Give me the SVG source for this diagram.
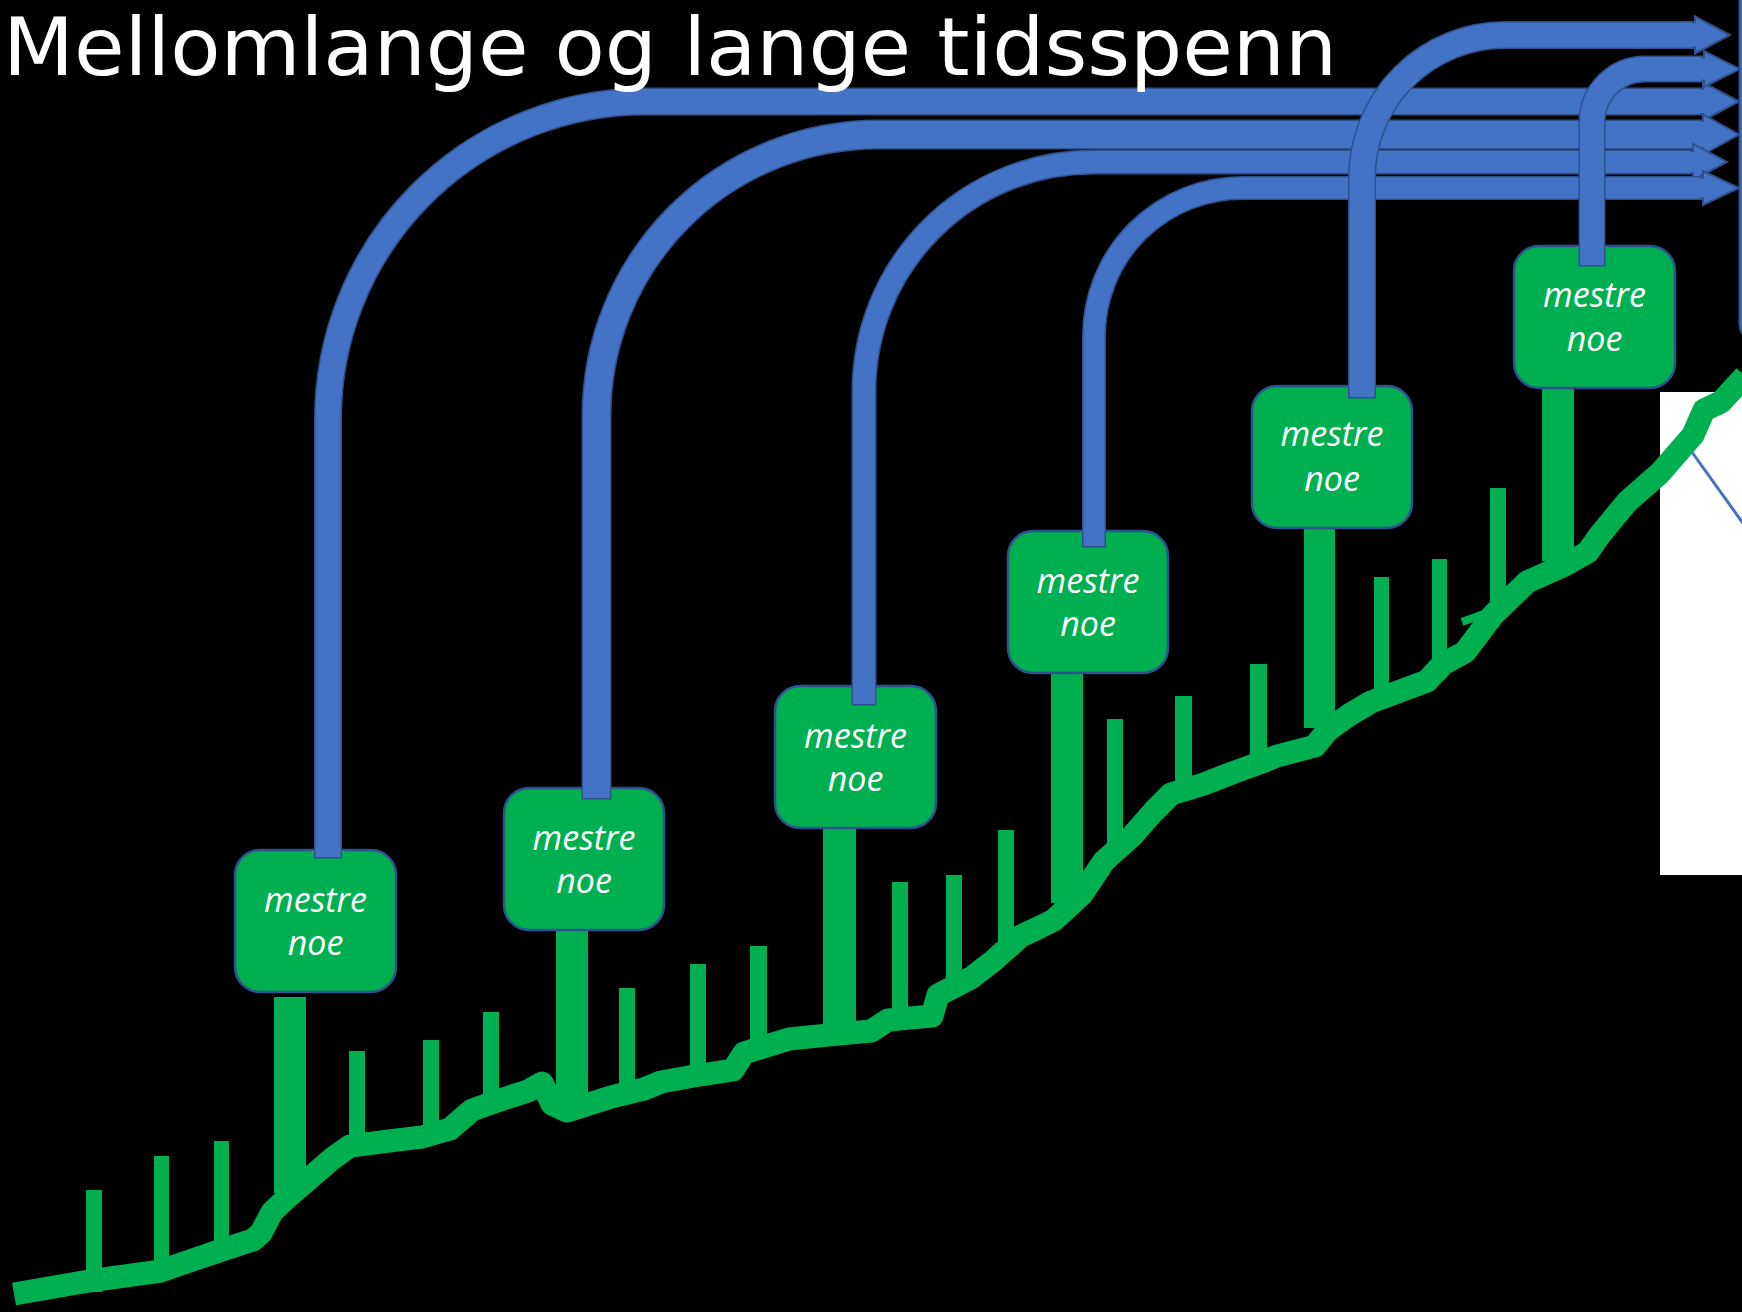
<svg xmlns="http://www.w3.org/2000/svg" width="1742" height="1312" viewBox="0 0 1742 1312">
<style>
.ao{fill:none;stroke:#2F528F}
.af{fill:none;stroke:#4472C4}
.ah{fill:#4472C4;stroke:#2F528F;stroke-width:2;stroke-linejoin:miter}
.box{fill:#00B050;stroke:#2F528F;stroke-width:2.5}
.lbl{font-family:"Open Sans","Liberation Sans",sans-serif;font-style:italic;font-size:34px;fill:#FFFFFF;text-anchor:middle}
.g{fill:#00B050}
.title{font-family:"DejaVu Sans","Noto Sans",sans-serif;font-size:80px;fill:#FFFFFF}
</style>
<rect x="0" y="0" width="1742" height="1312" fill="#000000"/>
<g id="backdrop">
<rect x="1660" y="392" width="90" height="483" fill="#FFFFFF"/>
<line x1="1689" y1="448" x2="1745" y2="526" stroke="#4472C4" stroke-width="3"/>
<rect x="1739.5" y="-40" width="100" height="385" rx="22" fill="#4472C4" stroke="#2F528F" stroke-width="2"/>
</g>
<g id="timeline">
<polyline fill="none" stroke="#00B050" stroke-width="23" stroke-linejoin="round" points="14,1294 89,1281 161,1271 172,1267 222,1250 253,1240 261,1233 272,1212 289,1196 311,1177 333,1158 350,1146 389,1141 422,1137 450,1129 472,1110 500,1100 528,1091 542,1083 552,1104 567,1111 583,1106 611,1097 644,1089 661,1082 694,1076 733,1070 744,1053 789,1039 828,1035 871,1031 888,1020 932,1016 938,995 971,978 993,961 1021,936 1038,928 1054,920 1082,894 1104,861 1132,836 1154,811 1171,794 1204,784 1232,773 1265,761 1277,756 1315,746 1327,731 1349,715 1371,702 1427,681 1443,664 1465,652 1493,615 1527,582 1565,565 1588,552 1599,536 1627,502 1660,473 1693,435 1704,410 1721,402 1745,376"/>
<line x1="1462" y1="622" x2="1494" y2="610" stroke="#00B050" stroke-width="8"/>
<rect class="g" x="86" y="1190" width="16" height="102"/>
<rect class="g" x="154" y="1156" width="15" height="123"/>
<rect class="g" x="214" y="1141" width="15" height="115"/>
<rect class="g" x="274" y="997" width="32" height="196"/>
<rect class="g" x="349" y="1051" width="16" height="94"/>
<rect class="g" x="423" y="1040" width="16" height="97"/>
<rect class="g" x="483" y="1012" width="16" height="94"/>
<rect class="g" x="556" y="930" width="32" height="170"/>
<rect class="g" x="619" y="988" width="16" height="105"/>
<rect class="g" x="690" y="964" width="16" height="113"/>
<rect class="g" x="750" y="946" width="17" height="106"/>
<rect class="g" x="823" y="828" width="33" height="197"/>
<rect class="g" x="892" y="882" width="16" height="133"/>
<rect class="g" x="946" y="875" width="16" height="115"/>
<rect class="g" x="998" y="830" width="16" height="120"/>
<rect class="g" x="1051" y="673" width="32" height="230"/>
<rect class="g" x="1107" y="719" width="16" height="133"/>
<rect class="g" x="1175" y="696" width="17" height="96"/>
<rect class="g" x="1250" y="664" width="17" height="101"/>
<rect class="g" x="1304" y="528" width="31" height="200"/>
<rect class="g" x="1374" y="577" width="15" height="113"/>
<rect class="g" x="1432" y="559" width="15" height="109"/>
<rect class="g" x="1490" y="488" width="16" height="124"/>
<rect class="g" x="1542" y="388" width="32" height="173"/>
</g>
<g id="node1">
<rect class="box" x="235" y="850" width="161" height="142" rx="25"/>
<text class="lbl" x="315.5" y="912">mestre</text>
<text class="lbl" x="315.5" y="955">noe</text>
</g>
<g id="node2">
<rect class="box" x="504" y="788" width="160" height="142" rx="25"/>
<text class="lbl" x="584" y="850">mestre</text>
<text class="lbl" x="584" y="893">noe</text>
</g>
<g id="node3">
<rect class="box" x="775" y="686" width="161" height="142" rx="25"/>
<text class="lbl" x="855.5" y="748">mestre</text>
<text class="lbl" x="855.5" y="791">noe</text>
</g>
<g id="node4">
<rect class="box" x="1008" y="531" width="160" height="142" rx="25"/>
<text class="lbl" x="1088" y="593">mestre</text>
<text class="lbl" x="1088" y="636">noe</text>
</g>
<g id="node5">
<rect class="box" x="1252" y="386" width="160" height="142" rx="25"/>
<text class="lbl" x="1332" y="446">mestre</text>
<text class="lbl" x="1332" y="491">noe</text>
</g>
<g id="node6">
<rect class="box" x="1514" y="246" width="161" height="142" rx="25"/>
<text class="lbl" x="1594.5" y="307">mestre</text>
<text class="lbl" x="1594.5" y="351">noe</text>
</g>
<g id="connectors">
<g id="arrow1">
<path class="ao" stroke-width="28" d="M328,858.5 V419 A317.5,317.5 0 0 1 645.5,101.5 H1704"/>
<path class="af" stroke-width="25" d="M328,857 V419 A317.5,317.5 0 0 1 645.5,101.5 H1704"/>
<path class="ah" d="M1700,89 L1703,89 L1703,82.5 L1739,101.5 L1703,120.5 L1703,114 L1700,114"/>
</g>
<g id="arrow2">
<path class="ao" stroke-width="30" d="M596.5,799.5 V416 A281.5,281.5 0 0 1 878,134.5 H1704"/>
<path class="af" stroke-width="27" d="M596.5,798 V416 A281.5,281.5 0 0 1 878,134.5 H1704"/>
<path class="ah" d="M1700,121 L1703,121 L1703,114.5 L1739,134.5 L1703,154.5 L1703,148 L1700,148"/>
</g>
<g id="arrow3">
<path class="ao" stroke-width="25" d="M864,705.5 V391 A229,229 0 0 1 1093,162 H1694"/>
<path class="af" stroke-width="22" d="M864,704 V391 A229,229 0 0 1 1093,162 H1694"/>
<path class="ah" d="M1690,151 L1693,151 L1693,144 L1727,162 L1693,180 L1693,173 L1690,173"/>
</g>
<g id="arrow4">
<path class="ao" stroke-width="24" d="M1094,547.5 V336 A148,148 0 0 1 1242,188 H1704"/>
<path class="af" stroke-width="21" d="M1094,546 V336 A148,148 0 0 1 1242,188 H1704"/>
<path class="ah" d="M1700,177.5 L1703,177.5 L1703,171 L1739,188 L1703,205 L1703,198.5 L1700,198.5"/>
</g>
<g id="arrow5">
<path class="ao" stroke-width="28" d="M1362,398.5 V178 A143,143 0 0 1 1505,35 H1696"/>
<path class="af" stroke-width="25" d="M1362,397 V178 A143,143 0 0 1 1505,35 H1696"/>
<path class="ah" d="M1692,22.5 L1695,22.5 L1695,16.5 L1730,35 L1695,53.5 L1695,47.5 L1692,47.5"/>
</g>
<g id="arrow6">
<path class="ao" stroke-width="27" d="M1592,266.5 V122 A53,53 0 0 1 1645,69 H1705"/>
<path class="af" stroke-width="24" d="M1592,265 V122 A53,53 0 0 1 1645,69 H1705"/>
<path class="ah" d="M1701,57.5 L1704,57.5 L1704,51 L1740,69 L1704,87 L1704,80.5 L1701,80.5"/>
</g>
</g>
<text class="title" x="3" y="75" textLength="1334" lengthAdjust="spacingAndGlyphs">Mellomlange og lange tidsspenn</text>
</svg>
